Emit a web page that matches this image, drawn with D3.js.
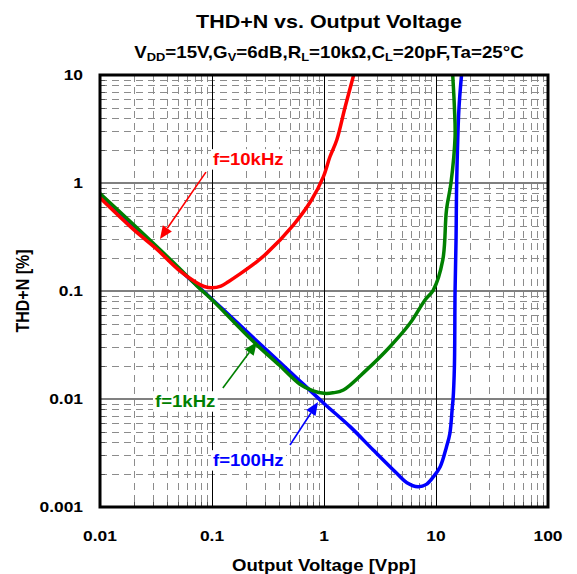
<!DOCTYPE html>
<html><head><meta charset="utf-8">
<script src="https://cdn.jsdelivr.net/npm/d3@7"></script>
<style>body{margin:0;background:#fff}svg{display:block}text{font-family:"Liberation Sans",Arial,sans-serif;font-weight:bold}</style>
</head><body>
<svg id="c" width="577" height="574"></svg>
<script>
// ---- data ----
const xTickValues = [0.01, 0.1, 1, 10, 100];
const xTickLabels = ["0.01", "0.1", "1", "10", "100"];
const yTickValues = [0.001, 0.01, 0.1, 1, 10];
const yTickLabels = ["0.001", "0.01", "0.1", "1", "10"];

const blueX = [0.01, 0.02, 0.05, 0.1, 0.2, 0.5, 1, 1.71, 2.75, 4.46, 5.5, 6.9, 8.2, 9.46, 10.9, 12.4, 13.3, 14.0, 14.2, 14.6, 14.8, 15.1, 15.3, 16.0, 16.9];
const blueY = [0.78, 0.40, 0.162, 0.084, 0.043, 0.0178, 0.0091, 0.00555, 0.00337, 0.00205, 0.00168, 0.00154, 0.00162, 0.0019, 0.00236, 0.0036, 0.0048, 0.0085, 0.0099, 0.02, 0.1, 0.3, 1.0, 4.74, 10];

const greenX = [0.01, 0.02, 0.05, 0.073, 0.1, 0.234, 0.4, 0.61, 0.8, 1.0, 1.2, 1.49, 2.4, 3.88, 5.86, 7.98, 9.46, 11.5, 12.4, 13.6, 14.8, 14.6, 14.1];
const greenY = [0.80, 0.41, 0.166, 0.112, 0.083, 0.034, 0.0205, 0.0137, 0.0119, 0.0113, 0.0114, 0.0121, 0.0186, 0.0305, 0.0502, 0.0826, 0.102, 0.194, 0.56, 1.0, 2.69, 5.0, 10];

const redX = [0.01, 0.02, 0.032, 0.05, 0.073, 0.085, 0.1, 0.12, 0.14, 0.178, 0.24, 0.307, 0.532, 0.776, 0.986, 1.13, 1.30, 1.54, 1.84];
const redY = [0.73, 0.37, 0.245, 0.158, 0.119, 0.11, 0.107, 0.111, 0.122, 0.144, 0.18, 0.223, 0.408, 0.70, 1.14, 1.75, 2.5, 5.0, 10];

const seriesNames = ["f=100Hz", "f=1kHz", "f=10kHz"];
const seriesColors = ["#0000FF", "#008000", "#FF0000"];
// annotation: text anchor (data), arrow start (data), arrow tip (data)
const annTextX = [0.102, 0.031, 0.102];
const annTextY = [0.0024, 0.00843, 1.47];
const annFromX = [0.497, 0.125, 0.0883];
const annFromY = [0.00375, 0.01265, 1.26];
const annToX = [0.884, 0.252, 0.0343];
const annToY = [0.00937, 0.0337, 0.303];

// ---- layout ----
const SX = 1.16;
const L = 100, R = 548, T = 75, B = 507;
const svg = d3.select("#c");
const x = d3.scaleLog().domain([0.01, 100]).range([L, R]);
const y = d3.scaleLog().domain([0.001, 10]).range([B, T]);

function stretchedText(g, px, py, str, size, anchor, fill) {
  return g.append("text").attr("transform", `translate(${px},${py}) scale(${SX},1)`)
    .attr("text-anchor", anchor).attr("font-size", size).attr("fill", fill || "#000").text(str);
}

// minor values
const minors = [];
for (let d = -3; d < 2; d++) for (let m = 2; m <= 9; m++) minors.push(m * Math.pow(10, d));
const xMinor = minors.filter(v => v > 0.01 && v < 100);
const yMinor = minors.filter(v => v > 0.001 && v < 10);

const grid = svg.append("g");
grid.selectAll(".vm").data(xMinor).join("line")
  .attr("x1", d => Math.round(x(d)) + 0.5).attr("x2", d => Math.round(x(d)) + 0.5)
  .attr("y1", T).attr("y2", B).attr("stroke", "#8c8c8c").attr("stroke-width", 1)
  .attr("stroke-dasharray", "7,5");
grid.selectAll(".hm").data(yMinor).join("line")
  .attr("y1", d => Math.round(y(d)) + 0.5).attr("y2", d => Math.round(y(d)) + 0.5)
  .attr("x1", L).attr("x2", R).attr("stroke", "#8c8c8c").attr("stroke-width", 1)
  .attr("stroke-dasharray", "7,5");
// inside ticks
grid.selectAll(".xt").data(xMinor).join("line")
  .attr("x1", d => Math.round(x(d)) + 0.5).attr("x2", d => Math.round(x(d)) + 0.5)
  .attr("y1", B).attr("y2", B - 5).attr("stroke", "#555").attr("stroke-width", 1);
grid.selectAll(".yt").data(yMinor).join("line")
  .attr("y1", d => Math.round(y(d)) + 0.5).attr("y2", d => Math.round(y(d)) + 0.5)
  .attr("x1", L).attr("x2", L + 5).attr("stroke", "#555").attr("stroke-width", 1);
// major
grid.selectAll(".hM").data(yTickValues.slice(1, -1)).join("line")
  .attr("y1", d => y(d)).attr("y2", d => y(d)).attr("x1", L).attr("x2", R)
  .attr("stroke", "#808080").attr("stroke-width", 2);
grid.selectAll(".vM").data(xTickValues.slice(1, -1)).join("line")
  .attr("x1", d => Math.round(x(d)) + 0.5).attr("x2", d => Math.round(x(d)) + 0.5).attr("y1", T).attr("y2", B)
  .attr("stroke", "#000").attr("stroke-width", 1);

// annotation labels with white boxes
const ann = svg.append("g");
seriesNames.forEach((name, i) => {
  const t = stretchedText(ann, x(annTextX[i]), y(annTextY[i]), name, 16, "start", seriesColors[i]);
  const bb = t.node().getBBox();
  ann.insert("rect", "text").attr("x", x(annTextX[i]) - 2).attr("y", y(annTextY[i]) + bb.y - 1)
    .attr("width", bb.width * SX + 4).attr("height", bb.height + 2).attr("fill", "#fff");
});

// curves
svg.append("clipPath").attr("id", "clp").append("rect")
  .attr("x", L).attr("y", T).attr("width", R - L).attr("height", B - T);
const line = d3.line().x(d => x(d[0])).y(d => y(d[1])).curve(d3.curveCatmullRom.alpha(0.5));
const curves = [[blueX, blueY], [greenX, greenY], [redX, redY]];
const cg = svg.append("g").attr("clip-path", "url(#clp)");
curves.forEach((c, i) => {
  cg.append("path").attr("d", line(d3.zip(c[0], c[1]))).attr("fill", "none")
    .attr("stroke", seriesColors[i]).attr("stroke-width", 3.5).attr("stroke-linejoin", "round");
});

// arrows
seriesNames.forEach((name, i) => {
  const x1 = x(annFromX[i]), y1 = y(annFromY[i]), x2 = x(annToX[i]), y2 = y(annToY[i]);
  const ang = Math.atan2(y2 - y1, x2 - x1), len = 13, w = 5.5;
  const bx = x2 - len * Math.cos(ang), by = y2 - len * Math.sin(ang);
  svg.append("line").attr("x1", x1).attr("y1", y1).attr("x2", bx).attr("y2", by)
    .attr("stroke", seriesColors[i]).attr("stroke-width", 1.6);
  const px = -Math.sin(ang), py = Math.cos(ang);
  svg.append("path").attr("d", `M${x2},${y2}L${bx + px * w},${by + py * w}L${bx - px * w},${by - py * w}Z`)
    .attr("fill", seriesColors[i]);
});

// frame
svg.append("rect").attr("x", L).attr("y", T).attr("width", R - L).attr("height", B - T)
  .attr("fill", "none").attr("stroke", "#000").attr("stroke-width", 3);

// tick labels
xTickValues.forEach((v, i) => stretchedText(svg, x(v), 541, xTickLabels[i], 15, "middle"));
yTickValues.forEach((v, i) => stretchedText(svg, 83, y(v) + 5.4, yTickLabels[i], 15, "end"));

// titles
stretchedText(svg, 329, 28.3, "THD+N vs. Output Voltage", 18.5, "middle");
const sub = svg.append("text").attr("transform", `translate(329,58.3) scale(1.17,1)`)
  .attr("text-anchor", "middle").attr("font-size", 16);
const parts = [["V", 0], ["DD", 1], ["=15V,G", 0], ["V", 1], ["=6dB,R", 0], ["L", 1], ["=10kΩ,C", 0], ["L", 1], ["=20pF,Ta=25°C", 0]];
let prevSub = 0;
parts.forEach(p => {
  const ts = sub.append("tspan").text(p[0]);
  if (p[1]) { ts.attr("font-size", 11).attr("dy", prevSub ? 0 : 3); }
  else { ts.attr("dy", prevSub ? -3 : 0); }
  prevSub = p[1];
});
stretchedText(svg, 324, 570.7, "Output Voltage [Vpp]", 16, "middle");
svg.append("text").attr("transform", `translate(29,${(T + B) / 2}) scale(${SX},1) rotate(-90)`)
  .attr("text-anchor", "middle").attr("font-size", 16).text("THD+N [%]");
</script>
</body></html>
